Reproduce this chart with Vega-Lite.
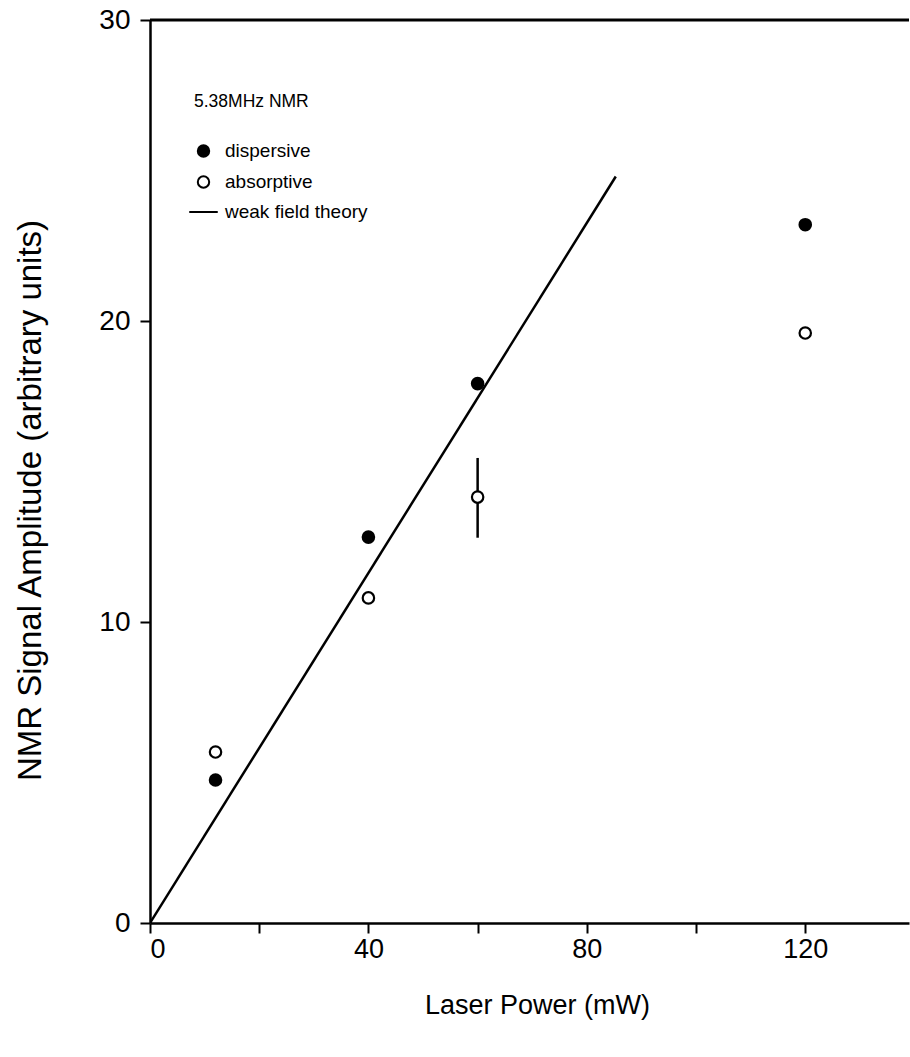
{
  "$schema": "https://vega.github.io/schema/vega-lite/v6.json",
  "width": 759,
  "height": 903,
  "autosize": {"type": "none"},
  "padding": {"left": 150, "top": 20, "right": 1, "bottom": 134},
  "background": "white",
  "config": {
    "view": {"stroke": null},
    "font": "Liberation Sans",
    "axis": {
      "domainColor": "black",
      "domainWidth": 2.5,
      "tickColor": "black",
      "tickWidth": 2,
      "tickSize": 10,
      "labelColor": "black",
      "labelFontSize": 27,
      "labelFont": "Liberation Sans",
      "titleFont": "Liberation Sans",
      "titleFontSize": 27,
      "titleFontWeight": "normal",
      "titleColor": "black",
      "grid": false
    },
    "legend": {
      "titleFont": "Liberation Sans",
      "labelFont": "Liberation Sans"
    }
  },
  "datasets": {
    "points": [
      {"power": 12, "amp": 4.75, "series": "dispersive"},
      {"power": 40, "amp": 12.82, "series": "dispersive"},
      {"power": 60, "amp": 17.92, "series": "dispersive"},
      {"power": 120, "amp": 23.2, "series": "dispersive"},
      {"power": 12, "amp": 5.68, "series": "absorptive"},
      {"power": 40, "amp": 10.8, "series": "absorptive"},
      {"power": 60, "amp": 14.15, "series": "absorptive", "err_lo": 12.8, "err_hi": 15.45},
      {"power": 120, "amp": 19.6, "series": "absorptive"}
    ],
    "theory": [
      {"power": 0, "amp": 0, "series": "weak field theory"},
      {"power": 85.3, "amp": 24.8, "series": "weak field theory"}
    ]
  },
  "layer": [
    {
      "data": {"values": [{}]},
      "mark": {"type": "rule", "color": "black", "strokeWidth": 3},
      "encoding": {"y": {"datum": 30, "type": "quantitative"}}
    },
    {
      "data": {"name": "theory"},
      "mark": {"type": "line", "color": "black", "strokeWidth": 2.5, "clip": true},
      "encoding": {
        "x": {"field": "power", "type": "quantitative"},
        "y": {"field": "amp", "type": "quantitative"}
      }
    },
    {
      "data": {"name": "points"},
      "transform": [{"filter": "isValid(datum.err_lo)"}],
      "mark": {"type": "rule", "color": "black", "strokeWidth": 2.5},
      "encoding": {
        "x": {"field": "power", "type": "quantitative"},
        "y": {"field": "err_lo", "type": "quantitative"},
        "y2": {"field": "err_hi"}
      }
    },
    {
      "data": {"name": "points"},
      "mark": {"type": "point", "stroke": "black", "strokeWidth": 2.2, "opacity": 1, "size": 130},
      "encoding": {
        "x": {
          "field": "power",
          "type": "quantitative",
          "title": "Laser Power (mW)",
          "scale": {"domain": [0, 139], "nice": false, "zero": true},
          "axis": {
            "values": [0, 20, 40, 60, 80, 100, 120],
            "labelExpr": "datum.value % 40 === 0 ? datum.label : ''",
            "labelPadding": 3,
            "titleX": 387,
            "titleY": 82,
            "titleBaseline": "middle",
            "titleAlign": "center",
            "titleAnchor": null
          }
        },
        "y": {
          "field": "amp",
          "type": "quantitative",
          "title": "NMR Signal Amplitude (arbitrary units)",
          "scale": {"domain": [0, 30], "nice": false},
          "axis": {
            "values": [0, 10, 20, 30],
            "labelPadding": 10,
            "labelFontSize": 28,
            "titleFontSize": 33,
            "titleX": -120,
            "titleY": 480,
            "titleAngle": -90,
            "titleBaseline": "middle",
            "titleAlign": "center",
            "titleAnchor": null
          }
        },
        "shape": {
          "field": "series",
          "type": "nominal",
          "scale": {
            "domain": ["dispersive", "absorptive", "weak field theory"],
            "range": ["circle", "circle", "M-2.5,0H2.5"]
          },
          "legend": {
            "title": "5.38MHz NMR",
            "orient": "none",
            "legendX": 44,
            "legendY": 73,
            "titleFontSize": 17.5,
            "titleFontWeight": "normal",
            "titleColor": "black",
            "titlePadding": 31,
            "labelFontSize": 19,
            "labelColor": "black",
            "labelOffset": 12,
            "rowPadding": 10,
            "symbolSize": 130,
            "symbolStrokeColor": "black",
            "symbolStrokeWidth": 2,
            "symbolOpacity": 1,
            "encode": {
              "symbols": {
                "update": {
                  "stroke": {"value": "black"},
                  "strokeWidth": {"value": 2},
                  "opacity": {"value": 1}
                }
              }
            }
          }
        },
        "fill": {
          "field": "series",
          "type": "nominal",
          "scale": {
            "domain": ["dispersive", "absorptive", "weak field theory"],
            "range": ["black", "white", "white"]
          },
          "legend": {
            "title": "5.38MHz NMR",
            "orient": "none",
            "legendX": 44,
            "legendY": 73,
            "titleFontSize": 17.5,
            "titleFontWeight": "normal",
            "titleColor": "black",
            "titlePadding": 31,
            "labelFontSize": 19,
            "labelColor": "black",
            "labelOffset": 12,
            "rowPadding": 10,
            "symbolSize": 130,
            "symbolStrokeColor": "black",
            "symbolStrokeWidth": 2,
            "symbolOpacity": 1,
            "encode": {
              "symbols": {
                "update": {
                  "stroke": {"value": "black"},
                  "strokeWidth": {"value": 2},
                  "opacity": {"value": 1}
                }
              }
            }
          }
        }
      }
    }
  ]
}
